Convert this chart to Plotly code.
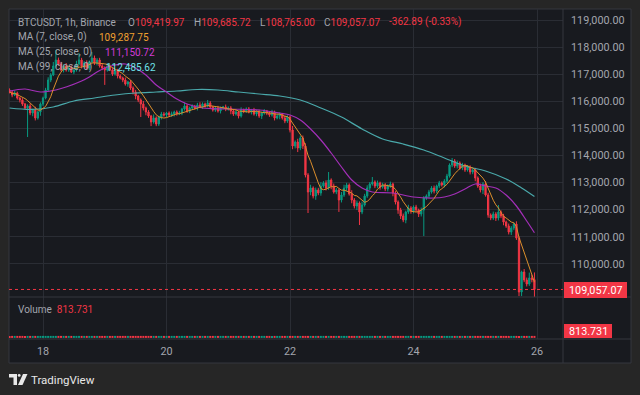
import pandas as pd
import plotly.graph_objects as go

# ---------------- data ----------------
first_candle = "2025-08-17 11:00"
first_open = 116417
closes = [
    116343, 116232, 116306, 116122, 116048, 115900, 115753, 115827, 115568, 115679,
    115384, 115605, 115900, 116122, 116417, 116786, 116970, 117303, 117524, 117376,
    117155, 117303, 117155, 117229, 117081, 117155, 117376, 117524, 117303, 117413,
    117229, 117450, 117598, 117413, 117524, 117303, 117229, 117155, 117303, 117155,
    117007, 117118, 116934, 116860, 116786, 116638, 116712, 116491, 116343, 116196,
    116048, 115900, 115753, 115605, 115458, 115236, 115384, 115162, 115421, 115531,
    115495, 115568, 115495, 115531, 115605, 115531, 115568, 115716, 115827, 115642,
    115753, 115827, 115753, 115864, 115790, 115900, 115827, 115937, 115790, 115679,
    115753, 115642, 115753, 115790, 115716, 115753, 115642, 115531, 115605, 115458,
    115679, 115642, 115716, 115605, 115679, 115531, 115605, 115458, 115568, 115642,
    115568, 115495, 115605, 115384, 115458, 115531, 115384, 115273, 115421, 114941,
    114351, 114498, 114277, 114646, 114351, 113281, 112653, 112801, 112506, 112727,
    112616, 112875, 112985, 112801, 113096, 112875, 112653, 112727, 112358, 112543,
    112801, 112912, 112579, 112358, 112137, 112247, 111915, 112174, 112506, 112801,
    112948, 113022, 112875, 112985, 112838, 112912, 112764, 112875, 112948, 112616,
    112284, 111989, 111768, 111620, 111915, 112063, 111952, 112100, 111989, 111841,
    111989, 112432, 112506, 112653, 112801, 112690, 112875, 112985, 112912, 113059,
    113244, 113650, 113797, 113613, 113723, 113539, 113650, 113465, 113576, 113391,
    113465, 113170, 112875, 112727, 112948, 112543, 111805, 111694, 111841, 111694,
    111915, 111768, 111546, 111399, 111177, 111325, 111472, 110956, 108963, 109701,
    109406, 109258, 109480, 109419.97, 109057.07,
]
upper_wicks = [
    60, 40, 90, 50, 30, 70, 40, 60, 90, 50,
    120, 40, 60, 50, 80, 100, 70, 150, 370, 90,
    80, 60, 110, 70, 90, 60, 120, 260, 80, 70,
    100, 60, 220, 90, 70, 80, 110, 60, 90, 50,
    70, 40, 80, 60, 50, 90, 40, 70, 60, 80,
    40, 60, 110, 50, 70, 40, 130, 60, 50, 80,
    70, 40, 60, 90, 50, 60, 80, 40, 120, 70,
    50, 60, 40, 80, 100, 60, 50, 110, 70, 40,
    60, 80, 50, 40, 90, 60, 70, 50, 80, 40,
    100, 50, 60, 70, 40, 80, 60, 90, 50, 70,
    40, 60, 80, 50, 70, 60, 40, 90, 60, 50,
    150, 60, 120, 80, 90, 100, 70, 120, 60, 90,
    80, 140, 70, 100, 295, 60, 90, 70, 50, 110,
    120, 80, 60, 140, 70, 90, 60, 130, 80, 100,
    70, 185, 60, 90, 50, 80, 70, 60, 90, 50,
    70, 60, 80, 90, 50, 120, 70, 60, 80, 50,
    90, 70, 60, 80, 70, 90, 50, 80, 60, 70,
    80, 60, 110, 70, 90, 60, 80, 50, 70, 60,
    50, 80, 60, 90, 70, 110, 80, 60, 90, 70,
    260, 60, 80, 50, 90, 70, 60, 100, 60, 50,
    110, 90, 200, 120, 265.75,
]
lower_wicks = [
    50, 80, 40, 60, 90, 70, 50, 1070, 80, 120,
    90, 60, 140, 70, 50, 60, 80, 40, 70, 60,
    50, 90, 60, 70, 40, 80, 60, 50, 90, 70,
    60, 80, 50, 70, 90, 60, 80, 550, 60, 40,
    70, 60, 90, 50, 80, 60, 100, 70, 90, 120,
    80, 480, 90, 120, 70, 150, 60, 80, 70, 90,
    60, 80, 50, 70, 90, 60, 40, 80, 60, 70,
    80, 50, 60, 90, 40, 70, 60, 50, 80, 60,
    70, 60, 90, 50, 80, 60, 120, 70, 60, 90,
    60, 80, 70, 50, 90, 60, 80, 70, 110, 60,
    80, 70, 60, 90, 50, 120, 60, 80, 70, 90,
    120, 90, 150, 80, 110, 90, 775, 120, 90, 140,
    80, 100, 60, 90, 70, 120, 60, 80, 440, 90,
    70, 100, 60, 120, 90, 150, 480, 80, 60, 70,
    90, 60, 80, 70, 100, 60, 80, 90, 70, 120,
    90, 140, 110, 80, 120, 70, 100, 90, 80, 110,
    90, 960, 70, 80, 60, 90, 70, 80, 60, 90,
    70, 60, 80, 70, 90, 60, 80, 70, 60, 90,
    80, 120, 70, 90, 150, 60, 100, 80, 70, 110,
    90, 80, 120, 70, 90, 110, 80, 70, 150, 150,
    80, 90, 70, 100, 292.07,
]

# moving-average lines (hours after 2025-08-18 00:00)
ma25_hours = [-13, -7, -1, 5, 9, 15, 18, 21, 24, 28, 32, 36, 40, 44, 48, 52, 56, 62, 72, 84,
              92, 96, 100, 104, 108, 112, 116, 120, 124, 128, 136, 144, 152, 156, 160, 164,
              168, 172, 176, 180, 184, 188, 191]
ma25_values = [116380, 116454, 116343, 116417, 116528, 116749, 116897, 117081, 117229, 117340,
               117376, 117229, 116970, 116601, 116343, 116085, 115900, 115753, 115716, 115679,
               115568, 115495, 115310, 114978, 114572, 114092, 113576, 113096, 112801, 112653,
               112616, 112469, 112432, 112469, 112579, 112764, 112948, 112875, 112801, 112543,
               112137, 111583, 111150.72]
ma99_hours = [-13, -4, 4, 12, 20, 28, 36, 44, 52, 60, 68, 76, 84, 92, 100, 108, 116, 124,
              132, 140, 148, 156, 164, 172, 180, 186, 191]
ma99_values = [115753, 115700, 115790, 116011, 116122, 116232, 116306, 116343, 116380, 116435,
               116417, 116343, 116270, 116196, 116048, 115753, 115421, 114978, 114609, 114424,
               114203, 113908, 113613, 113428, 113133, 112801, 112485.62]

price_ticks = [110000, 111000, 112000, 113000, 114000, 115000, 116000, 117000, 118000, 119000]
day_ticks = ["2025-08-18", "2025-08-20", "2025-08-22", "2025-08-24", "2025-08-26"]
day_labels = ["18", "20", "22", "24", "26"]

symbol_text = "BTCUSDT, 1h, Binance"
ohlc_labels = ["O", "H", "L", "C"]
ohlc_values = ["109,419.97", "109,685.72", "108,765.00", "109,057.07"]
change_text = "-362.89 (-0.33%)"
ma_labels = ["MA (7, close, 0)", "MA (25, close, 0)", "MA (99, close, 0)"]
ma_last = ["109,287.75", "111,150.72", "112,485.62"]
last_price = 109057.07
last_volume = "813.731"

# ---------------- derived ----------------
base = pd.Timestamp("2025-08-18 00:00")
times = pd.date_range(first_candle, periods=len(closes), freq="h")
opens = [first_open] + closes[:-1]
highs = [max(o, c) + u for o, c, u in zip(opens, closes, upper_wicks)]
lows = [min(o, c) - l for o, c, l in zip(opens, closes, lower_wicks)]
ma7 = pd.Series(closes).rolling(7, min_periods=1).mean()
ma25_t = [base + pd.Timedelta(hours=h) for h in ma25_hours]
ma99_t = [base + pd.Timedelta(hours=h) for h in ma99_hours]

GREEN = "#089981"
RED = "#f23645"
PANEL = "#181a1f"
OUTER = "#262626"
GRID = "#2a2d34"
SEP = "#34373f"
TXT = "#a3a6ae"
FONT = "Roboto, Liberation Sans, sans-serif"

W, H = 640, 395
ML, MR, MT, MB = 9, 77, 9, 56
PW, PH = W - ML - MR, H - MT - MB


def px(x):
    return (x - ML) / PW


def py(y):
    return 1 - (y - MT) / PH


split = py(297)

fig = go.Figure()
fig.add_trace(go.Candlestick(
    x=times, open=opens, high=highs, low=lows, close=closes,
    increasing=dict(line=dict(color=GREEN, width=1), fillcolor=GREEN),
    decreasing=dict(line=dict(color=RED, width=1), fillcolor=RED),
    whiskerwidth=0, xaxis="x", yaxis="y", showlegend=False, hoverinfo="skip"))
fig.add_trace(go.Scatter(x=ma99_t, y=ma99_values, mode="lines", line=dict(color="#4aa9ab", width=1.2, shape="spline"),
                         xaxis="x", yaxis="y", showlegend=False, hoverinfo="skip"))
fig.add_trace(go.Scatter(x=ma25_t, y=ma25_values, mode="lines", line=dict(color="#a32fb8", width=1.2, shape="spline"),
                         xaxis="x", yaxis="y", showlegend=False, hoverinfo="skip"))
fig.add_trace(go.Scatter(x=times, y=ma7, mode="lines", line=dict(color="#dc8e2c", width=1),
                         xaxis="x", yaxis="y", showlegend=False, hoverinfo="skip"))
# volume pane: the bars collapse to a dotted baseline
fig.add_trace(go.Scatter(x=times, y=[0] * len(times), mode="markers",
                         marker=dict(symbol="square", size=2,
                                     color=[GREEN if c >= o else RED for o, c in zip(opens, closes)]),
                         xaxis="x2", yaxis="y2", showlegend=False, hoverinfo="skip"))

shapes = [
    dict(type="rect", xref="paper", yref="paper", x0=px(9), x1=px(631), y0=py(9), y1=py(363),
         fillcolor=PANEL, line=dict(color=SEP, width=1), layer="below"),
    dict(type="line", xref="paper", yref="paper", x0=px(563), x1=px(563), y0=py(9), y1=py(363),
         line=dict(color=SEP, width=1)),
    dict(type="line", xref="paper", yref="paper", x0=px(9), x1=px(631), y0=py(297), y1=py(297),
         line=dict(color=SEP, width=1)),
    dict(type="line", xref="paper", yref="paper", x0=px(9), x1=px(631), y0=py(339), y1=py(339),
         line=dict(color=SEP, width=1)),
    dict(type="line", xref="paper", yref="y", x0=0, x1=1, y0=last_price, y1=last_price,
         line=dict(color=RED, width=1, dash="dot")),
    dict(type="rect", xref="paper", yref="paper", x0=px(564), x1=px(627), y0=py(282), y1=py(298),
         fillcolor=RED, line=dict(width=0)),
    dict(type="rect", xref="paper", yref="paper", x0=px(564), x1=px(612), y0=py(324), y1=py(338),
         fillcolor=RED, line=dict(width=0)),
    # TradingView logo
    dict(type="path", xref="paper", yref="paper",
         path="M {},{} L {},{} L {},{} L {},{} L {},{} L {},{} Z".format(
             px(9), py(374), px(17), py(374), px(17), py(385), px(13.5), py(385),
             px(13.5), py(377.5), px(9), py(377.5)),
         fillcolor="#e8e8e8", line=dict(width=0)),
    dict(type="circle", xref="paper", yref="paper", x0=px(17.8), x1=px(20.6), y0=py(374), y1=py(376.8),
         fillcolor="#e8e8e8", line=dict(width=0)),
    dict(type="path", xref="paper", yref="paper",
         path="M {},{} L {},{} L {},{} L {},{} Z".format(
             px(23), py(374), px(27.5), py(374), px(22.5), py(385), px(18), py(385)),
         fillcolor="#e8e8e8", line=dict(width=0)),
]

ann = []


def text(x, y, s, color, size=10, anchor="left", bold=False):
    ann.append(dict(xref="paper", yref="paper", x=px(x), y=py(y), text=("<b>%s</b>" % s) if bold else s,
                    showarrow=False, xanchor=anchor, yanchor="middle",
                    font=dict(family=FONT, size=size, color=color)))


text(16, 22, symbol_text, TXT)
for xpos, lab, val in zip([126, 192, 257.5, 322], ohlc_labels, ohlc_values):
    text(xpos, 22, "%s<span style='color:%s'>%s</span>" % (lab, RED, val), TXT)
text(387, 22, change_text, RED)
ma_colors = ["#f0a030", "#d23bd6", "#6fe3ea"]
for i, (lab, val, col, vx) in enumerate(zip(ma_labels, ma_last, ma_colors, [97, 103, 103.5])):
    yy = 37 + i * 15
    text(16, yy, lab, TXT)
    text(vx, yy, val, col)
text(16, 309, "Volume&nbsp;&nbsp;<span style='color:%s'>%s</span>" % (RED, last_volume), TXT)
text(595.5, 290.5, "{:,.2f}".format(last_price), "#ffffff", size=10.8, anchor="center")
text(588, 331, last_volume, "#ffffff", size=10.8, anchor="center")
text(29, 380, "TradingView", "#e8e8e8", size=11.5)

fig.update_layout(
    width=W, height=H, margin=dict(l=ML, r=MR, t=MT, b=MB),
    paper_bgcolor=OUTER, plot_bgcolor="rgba(0,0,0,0)",
    shapes=shapes, annotations=ann, showlegend=False,
    font=dict(family=FONT, size=10.8, color=TXT),
    xaxis=dict(domain=[0, 1], anchor="y", type="date",
               range=["2025-08-17 10:47", "2025-08-26 10:06"],
               rangeslider=dict(visible=False), tickvals=day_ticks, ticktext=day_labels,
               showticklabels=False, showgrid=True, gridcolor=GRID, gridwidth=1,
               zeroline=False, showline=False, ticks=""),
    xaxis2=dict(domain=[0, 1], anchor="y2", matches="x", type="date",
                tickvals=day_ticks, ticktext=day_labels, showgrid=True, gridcolor=GRID,
                zeroline=False, showline=False, ticks="", ticklabelstandoff=4,
                tickfont=dict(family=FONT, size=10.8, color=TXT)),
    yaxis=dict(domain=[split, 1], anchor="x", side="right", range=[108779, 119406],
               tickvals=price_ticks, tickformat=",.2f", showgrid=True, gridcolor=GRID,
               zeroline=False, showline=False, ticks="", ticklabelstandoff=7,
               tickfont=dict(family=FONT, size=10.8, color=TXT)),
    yaxis2=dict(domain=[0, split], anchor="x2", side="right", range=[-0.05, 0.95],
                showgrid=False, showticklabels=False, zeroline=False, showline=False),
)

fig.write_html("out.html", config={"displayModeBar": False},
               post_script="document.body.style.margin='0';document.body.style.overflow='hidden';")
